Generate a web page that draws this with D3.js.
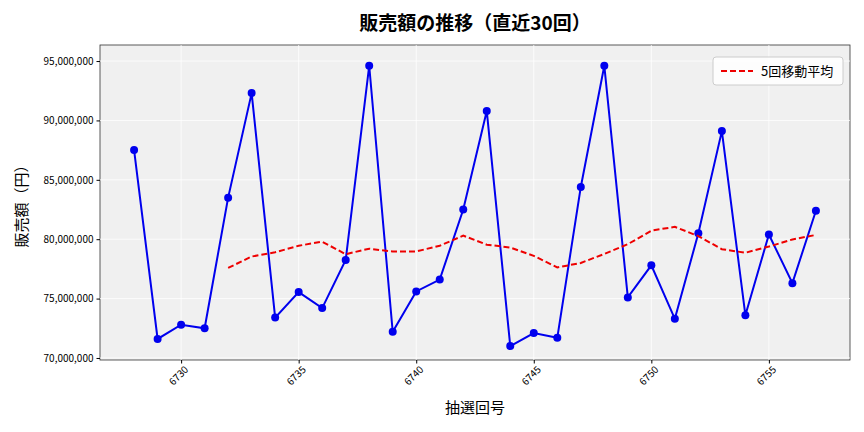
<!DOCTYPE html>
<html><head><meta charset="utf-8">
<script src="https://cdn.jsdelivr.net/npm/d3@7"></script>
<style>body{margin:0;background:#fff}text{font-family:"Noto Sans CJK JP","Noto Sans",sans-serif}</style>
</head><body>
<script>
const draws = d3.range(6728, 6758);
const sales = [87.5,71.6,72.8,72.5,83.5,92.3,73.4,75.55,74.2,78.25,94.6,72.2,75.6,76.6,82.5,90.8,71.0,72.1,71.7,84.4,94.6,75.1,77.8,73.3,80.5,89.1,73.6,80.4,76.3,82.4].map(v => v * 1e6);
const maDraws = d3.range(6732, 6758);
const ma5 = [77.58,78.54,78.9,79.45,79.79,78.74,79.2,78.96,78.97,79.45,80.3,79.54,79.3,78.6,77.62,78.0,78.76,79.58,80.72,81.04,80.26,79.16,78.86,79.38,79.98,80.36].map(v => v * 1e6);
const xTicks = [6730, 6735, 6740, 6745, 6750, 6755];
const yTicks = [70e6, 75e6, 80e6, 85e6, 90e6, 95e6];

const W = 864, H = 432, L = 100, R = 850, T = 45, B = 360;
const svg = d3.select("body").append("svg").attr("width", W).attr("height", H);
const x = d3.scaleLinear().domain([6726.55, 6758.45]).range([L, R]);
const y = d3.scaleLinear().domain([69.83e6, 96.35e6]).range([B, T]);

svg.append("rect").attr("x", L).attr("y", T).attr("width", R - L).attr("height", B - T)
  .attr("fill", "#f0f0f0").attr("stroke", "#333").attr("stroke-width", 0.8);

svg.append("g").selectAll("line").data(xTicks).join("line")
  .attr("x1", d => x(d)).attr("x2", d => x(d)).attr("y1", T).attr("y2", B)
  .attr("stroke", "#fff").attr("stroke-width", 0.8);
svg.append("g").selectAll("line").data(yTicks).join("line")
  .attr("y1", d => y(d)).attr("y2", d => y(d)).attr("x1", L).attr("x2", R)
  .attr("stroke", "#fff").attr("stroke-width", 0.8);

const xa = svg.append("g").attr("transform", `translate(0,${B})`)
  .call(d3.axisBottom(x).tickValues(xTicks).tickFormat(d3.format("d")).tickSize(3.5));
xa.selectAll("text").attr("font-size", 10).attr("text-anchor", "end")
  .attr("transform", "rotate(-45)").attr("dx", "-0.2em").attr("dy", "0.6em");
const ya = svg.append("g").attr("transform", `translate(${L},0)`)
  .call(d3.axisLeft(y).tickValues(yTicks).tickFormat(d3.format(",")).tickSize(3.5));
ya.selectAll("text").attr("font-size", 10);
svg.selectAll(".domain").remove();

svg.append("path").datum(sales.map((v, i) => [draws[i], v]))
  .attr("fill", "none").attr("stroke", "#0000ee").attr("stroke-width", 2)
  .attr("d", d3.line().x(d => x(d[0])).y(d => y(d[1])));
svg.append("g").selectAll("circle").data(sales).join("circle")
  .attr("cx", (d, i) => x(draws[i])).attr("cy", d => y(d)).attr("r", 4).attr("fill", "#0000ee");
svg.append("path").datum(ma5.map((v, i) => [maDraws[i], v]))
  .attr("fill", "none").attr("stroke", "#ee0000").attr("stroke-width", 2).attr("stroke-dasharray", "6,3")
  .attr("d", d3.line().x(d => x(d[0])).y(d => y(d[1])));

const lg = svg.append("g").attr("transform", "translate(713,57)");
lg.append("rect").attr("width", 130).attr("height", 28).attr("rx", 3)
  .attr("fill", "#fff").attr("fill-opacity", 0.85).attr("stroke", "#ccc");
lg.append("line").attr("x1", 8).attr("x2", 40).attr("y1", 14).attr("y2", 14)
  .attr("stroke", "#ee0000").attr("stroke-width", 2).attr("stroke-dasharray", "6,3");
lg.append("text").attr("x", 48).attr("y", 19).attr("font-size", 13).text("5回移動平均");

svg.append("text").attr("x", (L + R) / 2).attr("y", 30).attr("text-anchor", "middle")
  .attr("font-size", 19).attr("font-weight", "bold").text("販売額の推移（直近30回）");
svg.append("text").attr("x", (L + R) / 2).attr("y", 413).attr("text-anchor", "middle")
  .attr("font-size", 15).text("抽選回号");
svg.append("text").attr("transform", `translate(27,${(T + B) / 2}) rotate(-90)`)
  .attr("text-anchor", "middle").attr("font-size", 15).text("販売額（円）");
</script>
</body></html>
